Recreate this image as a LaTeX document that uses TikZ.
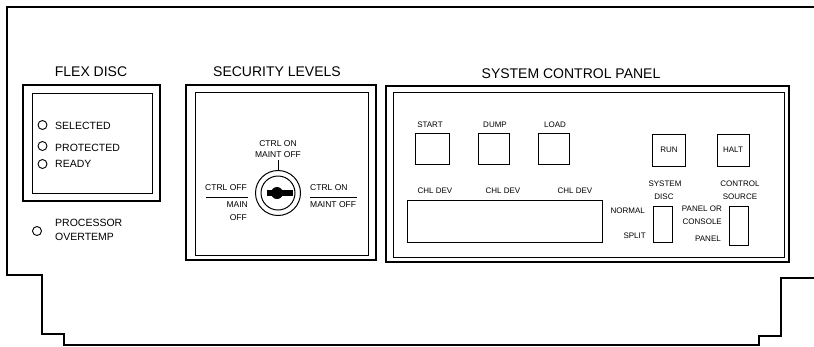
\documentclass[tikz,border=0pt]{standalone}
\usepackage{fontspec}
\setmainfont{Liberation Sans}
\begin{document}
\begin{tikzpicture}[x=1pt,y=-1pt,
  outline/.style={line width=1.2pt},
  frame/.style={line width=1.1pt},
  thin/.style={line width=0.9pt},
  ttl/.style={inner sep=0pt, font=\fontsize{14}{15}\selectfont},
  ledtxt/.style={inner sep=0pt, anchor=west, font=\fontsize{10.5}{11}\selectfont},
  lbl/.style={inner sep=0pt, font=\fontsize{8}{9}\selectfont},
  keytxt/.style={inner sep=0pt, font=\fontsize{8.5}{9.5}\selectfont},
  ledc/.style={circle, draw, line width=0.9pt, minimum size=9pt, inner sep=0pt},
  btn/.style={draw, line width=1pt, inner sep=0pt},
  ]
\useasboundingbox (0,0) rectangle (814,346);
% outer chassis outline
\draw[outline] (7,6) -- (7,275) -- (42,275) -- (42,334) -- (64,334) -- (64,345) -- (759,345);
\draw[outline] (7,7) -- (814,7);
\draw[outline] (814,278) -- (781,278) -- (781,336) -- (759,336) -- (759,346);

% FLEX DISC
\node[ttl] (tflex) at (91,72) {FLEX DISC};
\draw[frame] (23,85) rectangle (160,201);
\draw[thin] (32,93) rectangle (152,193);
\node[ledc] (l1) at (42.5,125) {};
\node[ledc] (l2) at (42.5,146) {};
\node[ledc] (l3) at (42.5,164) {};
\node[ledtxt] (t1) at (55,126) {SELECTED};
\node[ledtxt] (t2) at (55,148) {PROTECTED};
\node[ledtxt] (t3) at (55,164) {READY};
\node[ledc] (l4) at (37,231) {};
\node[ledtxt] (t4) at (55,223) {PROCESSOR};
\node[ledtxt] (t5) at (55,237) {OVERTEMP};

% SECURITY LEVELS
\node[ttl] (tsec) at (277,72) {SECURITY LEVELS};
\draw[frame] (186,85) rectangle (376,260);
\draw[thin] (195,92) rectangle (368,255);
\node[circle, draw, line width=1pt, minimum size=45pt, inner sep=0pt] (lockout) at (278,193) {};
\node[circle, draw, line width=1pt, minimum size=34pt, inner sep=0pt] (lockin) at (278,193) {};
\fill (277,193) circle (6);
\fill (267,190) rectangle (293,196);
\coordinate (tick) at (278,160);
\draw[line width=1pt] (lockout.north) -- (tick);
\node[keytxt] (k1) at (278,144) {CTRL ON};
\node[keytxt] (k2) at (278,155) {MAINT OFF};
\node[keytxt] (k3) at (226,188) {CTRL OFF};
\draw[line width=0.8pt] (206,197) -- (248,197);
\node[keytxt, anchor=east] (k4) at (248,205) {MAIN};
\node[keytxt, anchor=east] (k5) at (247,218) {OFF};
\node[keytxt, anchor=west] (k6) at (310,188) {CTRL ON};
\draw[line width=0.8pt] (310,197) -- (357,197);
\node[keytxt, anchor=west] (k7) at (310,205) {MAINT OFF};

% SYSTEM CONTROL PANEL
\node[ttl] (tsys) at (571,74) {SYSTEM CONTROL PANEL};
\draw[frame] (386,86) rectangle (789,262);
\draw[thin] (393,92) rectangle (784,257);
\node[lbl] (sstart) at (430,125) {START};
\node[lbl] (sdump) at (495,125) {DUMP};
\node[lbl] (sload) at (555,125) {LOAD};
\draw[line width=1pt] (415,133) rectangle (449,164);
\draw[line width=1pt] (478,133) rectangle (509,164);
\draw[line width=1pt] (538,133) rectangle (569,164);
\node[btn, minimum width=33pt, minimum height=32pt, font=\fontsize{8}{9}\selectfont] (run) at (669,150) {RUN};
\node[btn, minimum width=32pt, minimum height=32pt, font=\fontsize{8}{9}\selectfont] (halt) at (733,150) {HALT};
\node[lbl] (c1) at (435,191) {CHL DEV};
\node[lbl] (c2) at (503,191) {CHL DEV};
\node[lbl] (c3) at (575,191) {CHL DEV};
\draw[line width=1pt] (407,200) rectangle (602,242);
\node[lbl] (sd1) at (665,184) {SYSTEM};
\node[lbl] (sd2) at (664,197) {DISC};
\draw[line width=1pt] (653,206) rectangle (672,242);
\node[lbl, anchor=east] (nrm) at (645,211) {NORMAL};
\node[lbl, anchor=east] (spl) at (646,236) {SPLIT};
\node[lbl] (cs1) at (740,184) {CONTROL};
\node[lbl] (cs2) at (740,197) {SOURCE};
\draw[line width=1pt] (729,206) rectangle (748,245);
\node[lbl, anchor=east] (p1) at (722,209) {PANEL OR};
\node[lbl, anchor=east] (p2) at (722,222) {CONSOLE};
\node[lbl, anchor=east] (p3) at (721,239) {PANEL};
\end{tikzpicture}
\end{document}
